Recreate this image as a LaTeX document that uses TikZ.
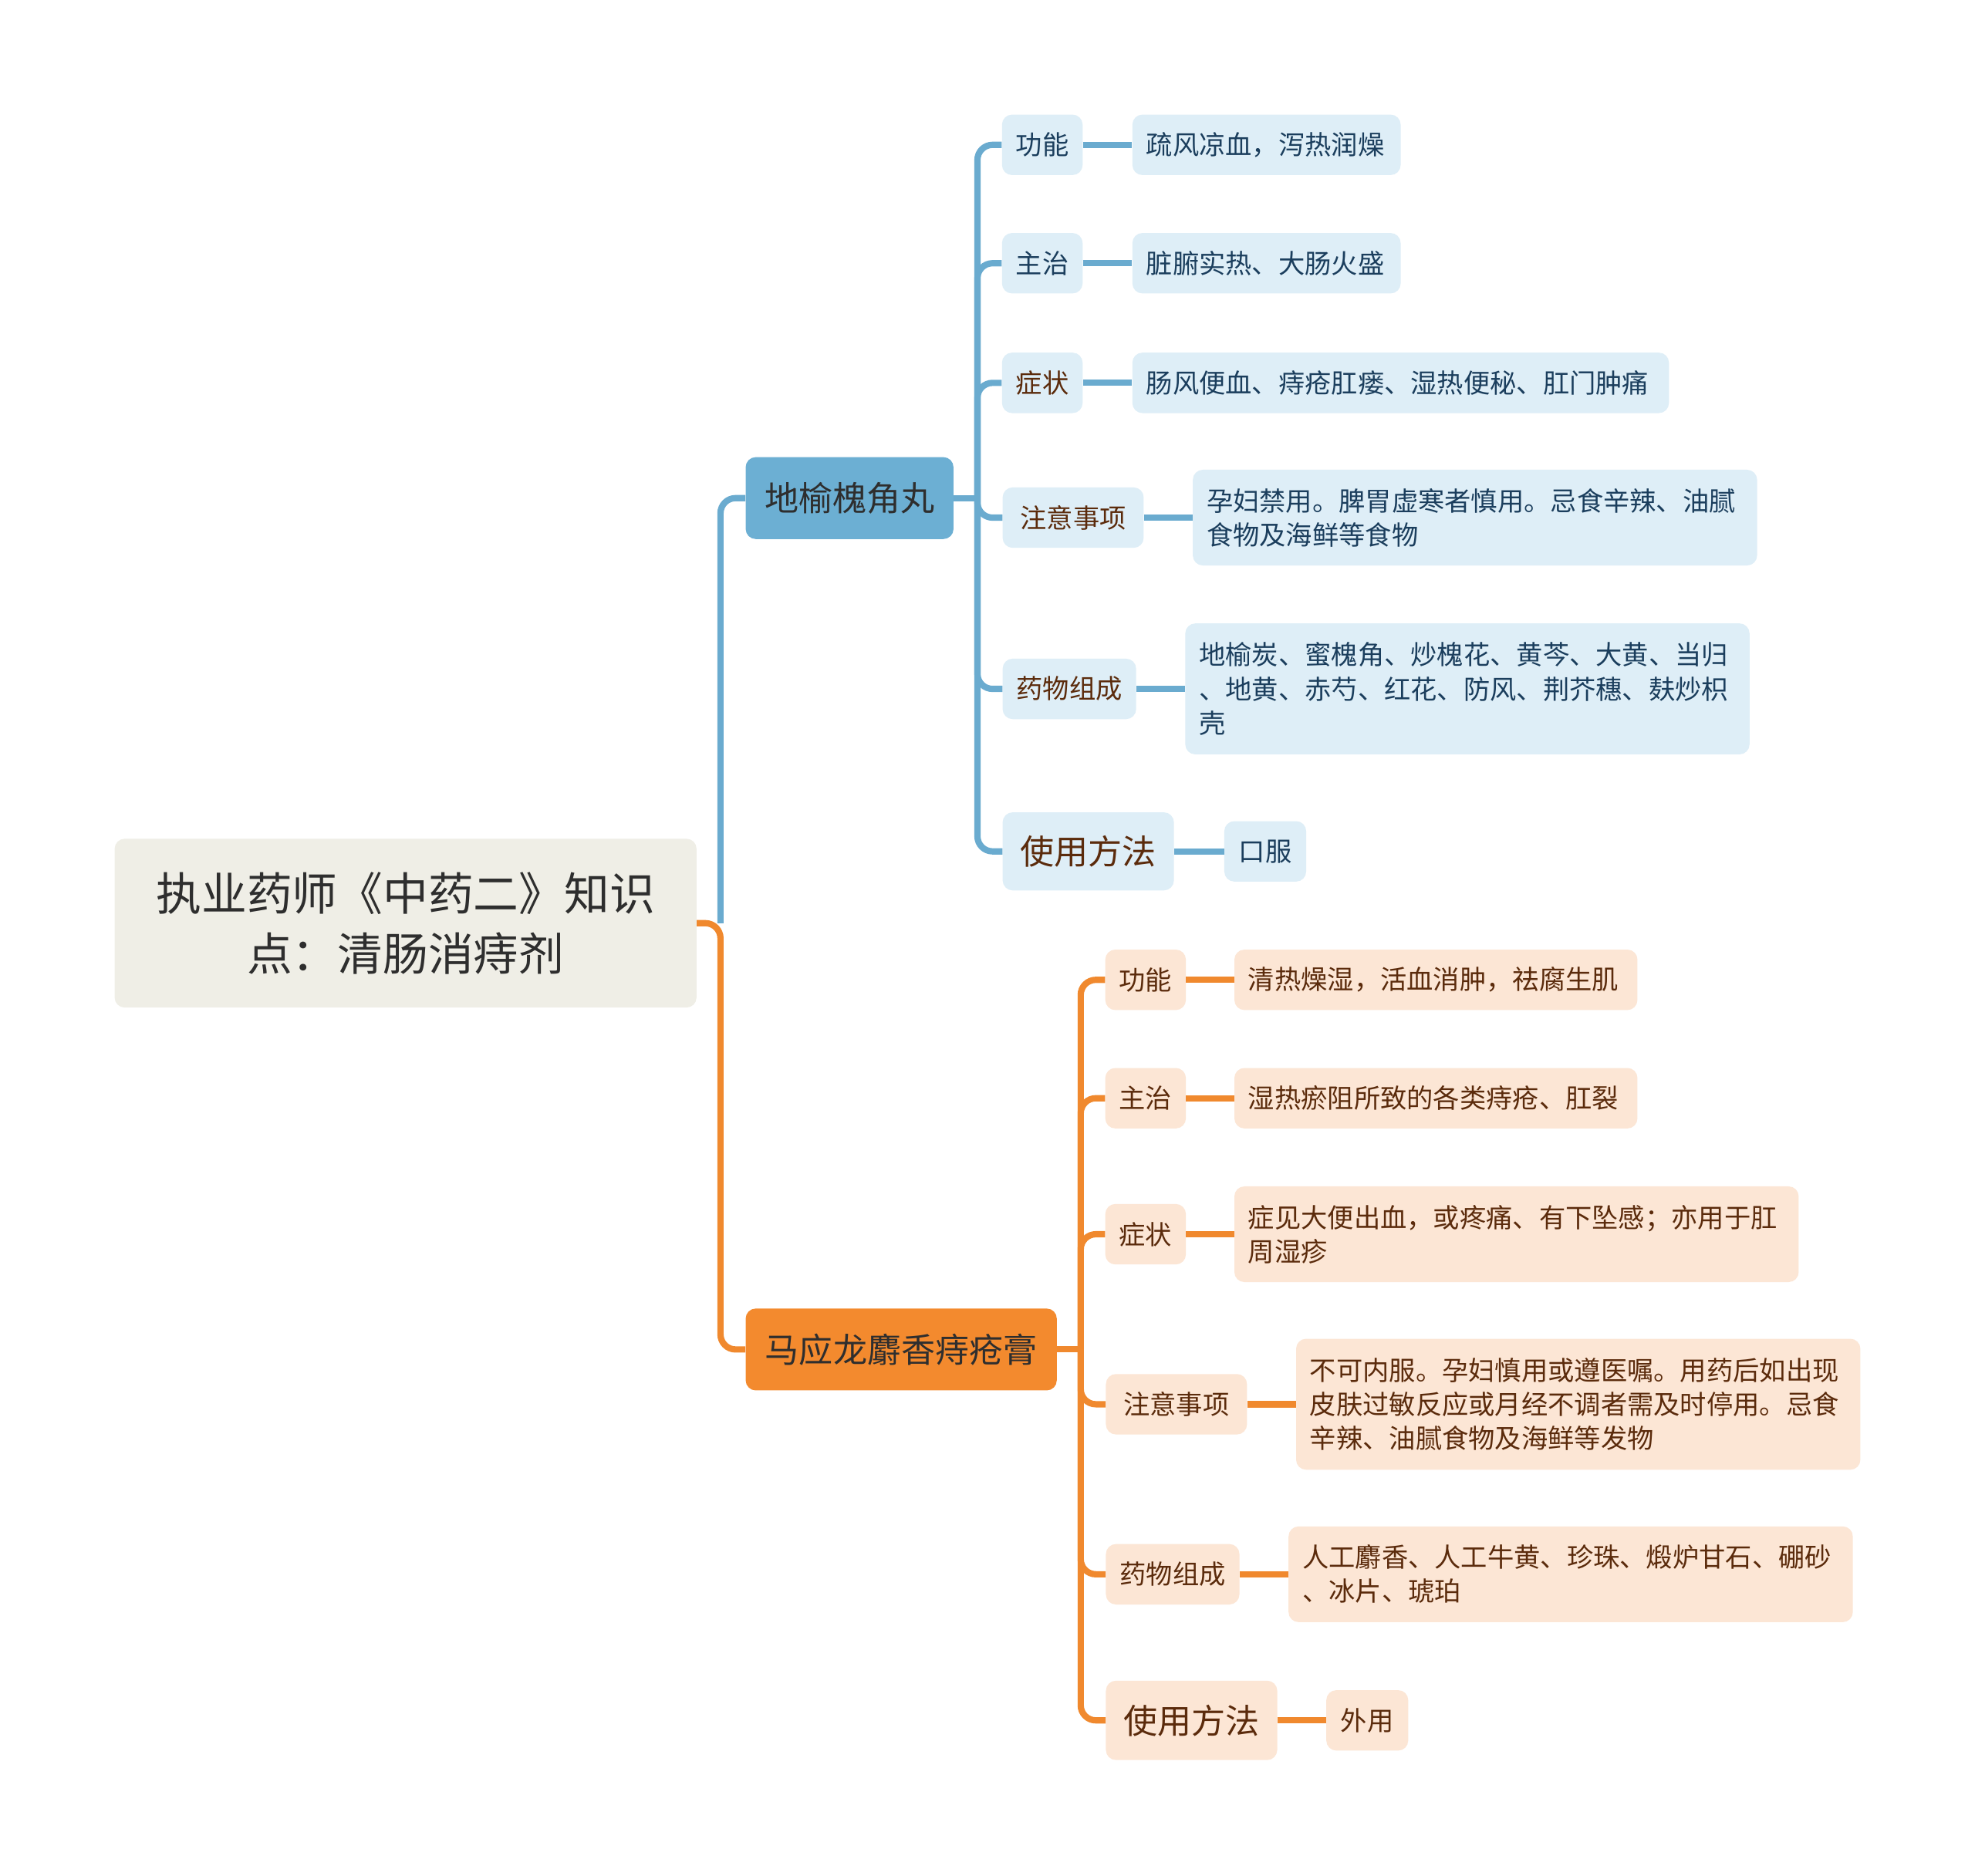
\documentclass[tikz,border=0pt]{standalone}
\usepackage{fontspec}
\setmainfont{Noto Sans CJK SC}
\definecolor{colBL}{HTML}{6AABCF}
\definecolor{colOL}{HTML}{F0892E}
\definecolor{colRoot}{HTML}{EFEEE6}
\definecolor{colBone}{HTML}{6CAFD3}
\definecolor{colBtwo}{HTML}{F38A2E}
\definecolor{colBfill}{HTML}{DEEEF7}
\definecolor{colOfill}{HTML}{FCE6D5}
\definecolor{colNavy}{HTML}{1B3E5D}
\definecolor{colBrown}{HTML}{5B2B0C}
\definecolor{colDark}{HTML}{2E2E2E}
\tikzset{
  box/.style={rectangle, rounded corners=8pt, inner xsep=11pt, inner ysep=0pt, draw=none},
  small/.style={font=\fontsize{21pt}{27pt}\selectfont},
  big/.style={font=\fontsize{27pt}{33pt}\selectfont},
  bbox/.style={box, fill=colBfill},
  obox/.style={box, fill=colOfill},
  leaf/.style={align=left},
  bline/.style={draw=colBL, line width=5pt, rounded corners=12pt},
  oline/.style={draw=colOL, line width=5pt, rounded corners=12pt},
}
\begin{document}
\begin{tikzpicture}[x=1pt,y=-1pt]
\path[fill=white] (0,0) rectangle (1568,1489);
\useasboundingbox (0,0) rectangle (1568,1489);

% root and branches
\node[box, fill=colRoot, text=colDark, minimum width=462pt, minimum height=134pt, align=center,
  font=\fontsize{36pt}{48pt}\selectfont] (root) at (322,733) {执业药师《中药二》知识\\点：清肠消痔剂};
\node[box, fill=colBone, text=colDark, big, minimum width=165pt, minimum height=65pt] (b1) at (674.5,395.5) {地榆槐角丸};
\node[box, fill=colBtwo, text=colDark, big, minimum width=247pt, minimum height=65pt] (b2) at (715.5,1071.5) {马应龙麝香痔疮膏};

% blue children
\node[bbox, small, text=colNavy, minimum width=63pt, minimum height=48pt] (bc1) at (827.5,115) {功能};
\node[bbox, small, text=colNavy, minimum width=213pt, minimum height=48pt, text width=191pt, leaf] (bl1) at (1005.5,115) {疏风凉血，泻热润燥};
\node[bbox, small, text=colNavy, minimum width=63pt, minimum height=48pt] (bc2) at (827.5,209) {主治};
\node[bbox, small, text=colNavy, minimum width=213pt, minimum height=48pt, text width=191pt, leaf] (bl2) at (1005.5,209) {脏腑实热、大肠火盛};
\node[bbox, small, text=colBrown, minimum width=63pt, minimum height=48pt] (bc3) at (827.5,304) {症状};
\node[bbox, small, text=colNavy, minimum width=426pt, minimum height=48pt, text width=404pt, leaf] (bl3) at (1112,304) {肠风便血、痔疮肛瘘、湿热便秘、肛门肿痛};
\node[bbox, small, text=colBrown, minimum width=112pt, minimum height=48pt] (bc4) at (852,411) {注意事项};
\node[bbox, small, text=colNavy, minimum width=448pt, minimum height=76pt, text width=426pt, leaf] (bl4) at (1171,411) {孕妇禁用。脾胃虚寒者慎用。忌食辛辣、油腻\\食物及海鲜等食物};
\node[bbox, small, text=colBrown, minimum width=106pt, minimum height=48pt] (bc5) at (849,547) {药物组成};
\node[bbox, small, text=colNavy, minimum width=448pt, minimum height=104pt, text width=426pt, leaf] (bl5) at (1165,547) {地榆炭、蜜槐角、炒槐花、黄芩、大黄、当归\\、地黄、赤芍、红花、防风、荆芥穗、麸炒枳\\壳};
\node[bbox, big, text=colBrown, minimum width=136pt, minimum height=62pt] (bc6) at (864,676) {使用方法};
\node[bbox, small, text=colNavy, minimum width=65pt, minimum height=48pt] (bl6) at (1004.5,676) {口服};

% orange children
\node[obox, small, text=colBrown, minimum width=63pt, minimum height=48pt] (oc1) at (909.5,778) {功能};
\node[obox, small, text=colBrown, minimum width=320pt, minimum height=48pt, text width=298pt, leaf] (ol1) at (1140,778) {清热燥湿，活血消肿，祛腐生肌};
\node[obox, small, text=colBrown, minimum width=63pt, minimum height=48pt] (oc2) at (909.5,872) {主治};
\node[obox, small, text=colBrown, minimum width=320pt, minimum height=48pt, text width=298pt, leaf] (ol2) at (1140,872) {湿热瘀阻所致的各类痔疮、肛裂};
\node[obox, small, text=colBrown, minimum width=63pt, minimum height=48pt] (oc3) at (909.5,980) {症状};
\node[obox, small, text=colBrown, minimum width=448pt, minimum height=76pt, text width=426pt, leaf] (ol3) at (1204,980) {症见大便出血，或疼痛、有下坠感；亦用于肛\\周湿疹};
\node[obox, small, text=colBrown, minimum width=112pt, minimum height=48pt] (oc4) at (934,1115) {注意事项};
\node[obox, small, text=colBrown, minimum width=448pt, minimum height=104pt, text width=426pt, leaf] (ol4) at (1253,1115) {不可内服。孕妇慎用或遵医嘱。用药后如出现\\皮肤过敏反应或月经不调者需及时停用。忌食\\辛辣、油腻食物及海鲜等发物};
\node[obox, small, text=colBrown, minimum width=106pt, minimum height=48pt] (oc5) at (931,1250) {药物组成};
\node[obox, small, text=colBrown, minimum width=448pt, minimum height=76pt, text width=426pt, leaf] (ol5) at (1247,1250) {人工麝香、人工牛黄、珍珠、煅炉甘石、硼砂\\、冰片、琥珀};
\node[obox, big, text=colBrown, minimum width=136pt, minimum height=63pt] (oc6) at (946,1366) {使用方法};
\node[obox, small, text=colBrown, minimum width=65pt, minimum height=48pt] (ol6) at (1085.5,1366) {外用};

% connectors root -> branches
\coordinate (rj) at (572,733);
\draw[bline] (rj) |- (b1.west);
\draw[oline] (root.east) -- (rj) |- (b2.west);

% blue subtree
\coordinate (bj) at (776,395.5);
\draw[bline] (b1.east) -- (bj);
\foreach \c in {bc1,bc2,bc3,bc4,bc5,bc6} { \draw[bline] (bj) |- (\c.west); }
\draw[bline] (bc1.east) -- (bl1.west);
\draw[bline] (bc2.east) -- (bl2.west);
\draw[bline] (bc3.east) -- (bl3.west);
\draw[bline] (bc4.east) -- (bl4.west);
\draw[bline] (bc5.east) -- (bl5.west);
\draw[bline] (bc6.east) -- (bl6.west);

% orange subtree
\coordinate (oj) at (858,1071.5);
\draw[oline] (b2.east) -- (oj);
\foreach \c in {oc1,oc2,oc3,oc4,oc5,oc6} { \draw[oline] (oj) |- (\c.west); }
\draw[oline] (oc1.east) -- (ol1.west);
\draw[oline] (oc2.east) -- (ol2.west);
\draw[oline] (oc3.east) -- (ol3.west);
\draw[oline] (oc4.east) -- (ol4.west);
\draw[oline] (oc5.east) -- (ol5.west);
\draw[oline] (oc6.east) -- (ol6.west);
\end{tikzpicture}
\end{document}
